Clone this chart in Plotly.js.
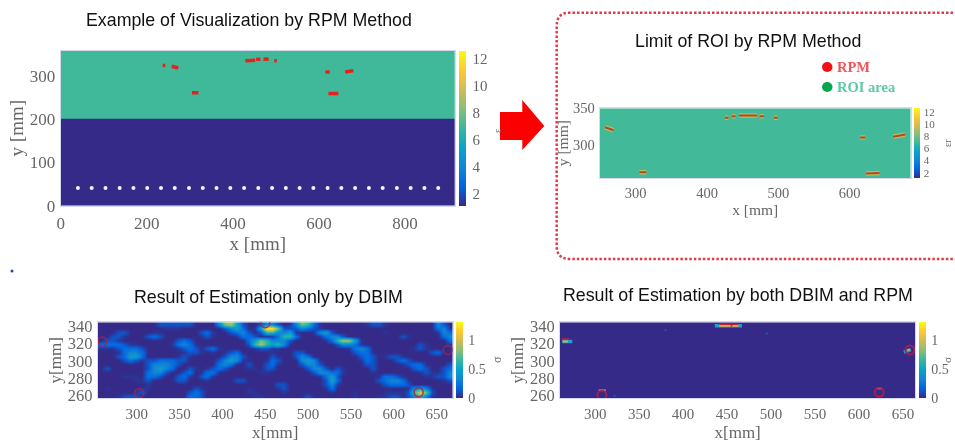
<!DOCTYPE html>
<html><head><meta charset="utf-8">
<script src="https://cdn.plot.ly/plotly-3.0.1.min.js"></script>
<style>html,body{margin:0;padding:0;background:#fff;overflow:hidden}#chart{width:955px;height:443px;filter:blur(0.7px)}</style>
</head><body><div id="chart"></div>
<script>
const W=955,H=443;
const parula=[[0,'rgb(53,42,135)'],[0.125,'rgb(3,99,225)'],[0.25,'rgb(20,133,212)'],[0.375,'rgb(6,164,202)'],[0.5,'rgb(56,184,158)'],[0.625,'rgb(135,191,119)'],[0.75,'rgb(209,187,89)'],[0.875,'rgb(254,200,50)'],[1,'rgb(249,251,14)']];

// Panel A: permittivity layers and RPM detections
const layerEdgesY=[0,200,358];
const layerEdgesX=[0,916];
const layerValues=[[1.14],[7]];
const antennaX=[40,72,104,137,169,201,233,265,298,330,362,394,426,459,491,523,555,587,620,652,684,716,748,781,813,845,877];
const antennaY=antennaX.map(()=>41);
const rpmAX=[237,243,null,258,273,null,305,320,null,429,452,null,454,464,null,471,483,null,496,502,null,615,625,null,661,680,null,622,645];
const rpmAY=[324,324,null,322,318,null,261,261,null,335,336,null,338,338,null,339,338,null,335,335,null,309,309,null,309,312,null,259,259];

// Panel B: ROI-limited map
const roiEdgesX=[249.5,685.7];
const roiEdgesY=[254.5,350];
const roiValues=[[7.1]];
const rpmBX=[257,269,null,305,315,null,425,430,null,435,440,null,445,470,null,474,480,null,494,499,null,615,622,null,661,678,null,623,642];
const rpmBY=[324,320,null,262.5,262.5,null,337,337,null,339,339,null,340,340,null,339,339,null,337,337,null,310,310,null,311,314,null,260.5,261.5];

// Panel C: DBIM estimate, colour levels read per cell, rows from the top of the plot
const sigmaLevels=[0,0,0.03,0.12,0.22,0.33,0.47,0.62,0.78,0.9,1.0,1.08,1.15,1.25];
const dbimLevels=[
[0,0,0,0,0,0,0,0,0,0,3,3,3,3,3,3,1,0,0,1,5,8,9,6,3,1,0,3,5,5,3,1,2,5,8,7,4,2,1,0,0,0,0,1,1,2,3,3,2,1,0,0,0,0,0,0,1,5,3,1],
[0,0,0,0,0,0,0,0,0,0,1,2,2,2,1,0,0,0,0,0,1,3,5,6,4,1,2,6,13,13,8,3,3,3,5,4,3,2,1,0,0,0,0,0,0,0,0,1,1,1,0,0,0,0,0,0,0,4,5,2],
[0,0,1,3,3,1,0,0,1,2,2,1,0,0,0,0,0,3,4,2,0,1,3,4,5,3,1,3,7,7,5,5,6,2,1,1,2,5,6,3,1,0,0,0,0,0,1,1,2,1,0,0,0,0,0,0,0,2,5,4],
[0,1,3,3,2,0,0,1,3,4,3,1,0,0,0,0,1,2,3,2,0,0,1,2,4,4,3,1,1,2,4,7,7,4,1,0,0,2,4,5,5,3,1,0,0,0,0,0,0,0,1,3,2,0,0,0,0,0,4,5],
[1,3,3,2,1,0,0,0,1,1,0,0,1,3,4,3,1,0,0,0,0,0,0,0,1,4,6,8,7,5,5,5,3,1,0,0,0,0,2,4,7,9,9,6,2,0,0,0,0,0,0,1,1,0,0,0,0,0,1,4],
[4,4,4,4,3,2,2,1,0,0,0,0,2,4,5,4,2,0,0,0,0,0,0,0,0,3,7,9,7,6,7,5,2,0,0,0,0,0,0,1,3,5,5,4,2,0,0,0,0,0,0,0,0,1,3,2,0,0,0,2],
[2,2,2,3,4,4,4,3,1,0,0,0,0,2,3,4,3,1,3,4,2,0,0,0,0,0,2,3,3,2,2,1,0,0,0,0,0,0,0,0,0,1,2,4,5,4,1,0,0,0,0,0,0,2,3,2,0,0,0,0],
[0,0,1,2,4,5,5,4,1,0,0,0,0,0,2,3,3,2,1,2,1,2,3,4,1,0,0,0,1,2,1,0,0,3,3,1,0,0,0,0,0,0,1,3,4,4,2,0,0,1,0,0,0,0,0,0,3,4,1,0],
[0,0,1,3,4,6,6,4,1,0,0,1,1,2,3,2,1,0,0,0,1,3,5,5,3,1,0,0,1,3,2,0,0,3,5,4,1,0,0,0,0,0,0,1,3,4,3,0,2,3,3,2,0,0,0,0,0,1,0,0],
[0,0,0,1,3,4,3,2,3,3,4,4,4,3,3,1,0,0,0,0,3,5,6,5,2,2,0,0,2,4,3,0,0,1,5,6,5,2,0,0,0,0,0,0,2,4,3,0,0,1,3,4,3,2,1,0,0,0,0,0],
[0,0,0,0,1,1,1,1,3,5,5,5,4,3,1,0,0,0,0,1,4,5,4,1,1,3,1,0,3,4,2,0,0,0,3,5,5,3,1,0,0,0,0,0,0,3,3,0,0,0,0,2,3,4,4,2,0,0,1,3],
[1,3,1,0,0,0,0,0,3,5,6,5,4,1,0,3,2,0,2,3,4,3,1,0,0,2,2,1,3,3,1,0,0,0,1,3,5,5,3,1,3,2,0,0,0,1,3,1,0,0,0,0,0,3,4,3,0,0,3,4],
[0,1,0,0,0,0,0,1,4,5,5,3,1,0,3,4,1,2,4,4,2,0,0,0,0,0,1,2,2,1,0,0,0,0,0,1,3,5,5,4,4,2,0,0,0,0,2,1,0,0,0,0,0,0,2,3,2,2,3,5],
[0,0,0,1,2,2,2,1,4,4,3,1,0,3,4,2,0,3,4,2,0,0,0,1,1,0,0,0,0,0,0,0,0,0,0,0,1,2,4,6,3,1,0,0,0,0,0,2,4,4,3,2,1,1,1,2,2,3,3,5],
[0,0,0,0,0,1,2,2,3,1,0,0,0,3,3,1,0,1,2,0,0,0,1,3,3,0,0,0,0,0,1,1,0,0,0,0,0,1,3,6,4,1,0,0,0,0,0,3,4,5,5,4,2,1,0,0,0,1,2,3],
[1,1,0,0,0,0,0,1,2,0,0,0,0,0,0,0,0,0,0,0,0,0,0,1,1,0,0,0,0,0,3,3,1,0,0,0,0,0,3,5,2,0,0,0,0,0,0,1,3,4,4,4,3,1,0,0,0,0,0,1],
[1,2,1,0,0,0,0,2,2,0,0,0,0,0,0,1,3,2,0,0,0,0,0,0,1,2,1,0,0,0,2,3,1,0,0,0,0,0,2,4,1,0,0,0,0,0,0,0,1,1,1,1,2,5,6,5,2,0,0,0],
[1,1,0,0,0,1,2,3,1,0,0,0,0,0,1,3,4,3,1,0,0,0,0,0,0,2,2,1,0,0,1,2,0,0,0,1,1,0,0,2,0,0,1,2,1,0,1,1,2,2,2,2,3,7,11,8,3,0,0,0],
[0,0,1,2,3,3,3,1,0,0,0,0,0,0,1,4,4,3,0,0,0,0,0,0,1,1,2,2,0,0,0,0,0,1,2,3,1,0,0,0,0,0,1,2,0,0,1,2,2,3,3,2,3,5,7,5,2,0,0,0]
];
const dbimSigma=dbimLevels.map(r=>r.map(v=>sigmaLevels[v]));
const dbimCircleX=[303,260,663,629,450];
const dbimCircleY=[262,322.4,312.7,263,344];

// Panel D: DBIM with RPM
const bothEdgesX=[260,664];
const bothEdgesY=[256,345];
const bothValues=[[0]];
const bothHaloX=[436,467,null,262.5,274,null,651,659];
const bothHaloY=[341,341,null,322.4,322.4,null,310,313];
const bothCoreX=[441,463,null,263,269,null,655,658];
const bothCoreY=[341,341,null,322.4,322.4,null,312.5,313];
const bothRedX=[441,463,null,262,270];
const bothRedY=[342.6,342.6,null,325.5,325.5];
const bothCapX=[304,312,null,620,626];
const bothCapY=[265.5,265.5,null,267.5,267.5];
const bothFaintX=[380,455,495,322];
const bothFaintY=[336,341,332,259];
const bothCircleX=[307.6,623,658];
const bothCircleY=[260,263,312.7];

const tickLabels_a_x=[0,200,400,600,800];
const tickLabels_a_y=[0,100,200,300];
const tickLabels_b_x=[300,400,500,600];
const tickLabels_b_y=[300,350];
const tickLabels_cd_x=[300,350,400,450,500,550,600,650];
const tickLabels_cd_y=[260,280,300,320,340];
const epsTicks=[2,4,6,8,10,12];
const sigmaTicks=[0,0.5,1];

const grey='#666', serif='"Liberation Serif","Times New Roman",serif', sans='"Liberation Sans",Arial,sans-serif';
const px=x=>x/W, py=y=>1-y/H;
function cbar(l,t,b,th,size,vals,gap){return {x:px(l),xanchor:'left',xpad:0,y:py(b),yanchor:'bottom',ypad:0,len:(b-t)/H,lenmode:'fraction',thickness:th,thicknessmode:'pixels',outlinewidth:0,ticks:'outside',ticklen:gap,tickcolor:'rgba(0,0,0,0)',tickvals:vals,tickfont:{family:serif,size:size,color:grey}};}
const data=[];
function line(xa,ya,x,y,color,width){data.push({type:'scatter',mode:'lines',xaxis:xa,yaxis:ya,x,y,connectgaps:false,showlegend:false,hoverinfo:'skip',line:{color,width,shape:'linear'}});}
function marks(xa,ya,x,y,marker){data.push({type:'scatter',mode:'markers',xaxis:xa,yaxis:ya,x,y,showlegend:false,hoverinfo:'skip',marker});}

data.push({type:'heatmap',xaxis:'x',yaxis:'y',x:layerEdgesX,y:layerEdgesY,z:layerValues,zmin:1.14,zmax:12.6,colorscale:parula,hoverinfo:'skip',colorbar:cbar(459.3,50.7,205.7,7,15,epsTicks,4)});
marks('x','y',antennaX,antennaY,{color:'#f4f4fa',size:4});
line('x','y',rpmAX,rpmAY,'#e8201c',3.5);

data.push({type:'heatmap',xaxis:'x2',yaxis:'y2',x:roiEdgesX,y:roiEdgesY,z:roiValues,zmin:1.12,zmax:12.73,colorscale:parula,hoverinfo:'skip',colorbar:cbar(914,108.3,178,6,11,epsTicks,2)});
line('x2','y2',rpmBX,rpmBY,'#b9bd55',4.5);
line('x2','y2',rpmBX,rpmBY,'#b5462a',2);

data.push({type:'heatmap',xaxis:'x3',yaxis:'y3',z:dbimSigma,x0:258,dx:6.9,y0:342.8,dy:-4.68,zmin:0,zmax:1.3,zsmooth:'best',colorscale:parula,hoverinfo:'skip',colorbar:cbar(456,322.3,398.3,7,14,sigmaTicks,3)});
marks('x3','y3',dbimCircleX,dbimCircleY,{symbol:'circle-open',size:9,color:'rgba(175,30,70,0.85)',line:{width:1.5,color:'rgba(175,30,70,0.85)'}});

data.push({type:'heatmap',xaxis:'x4',yaxis:'y4',x:bothEdgesX,y:bothEdgesY,z:bothValues,zmin:0,zmax:1.3,colorscale:parula,hoverinfo:'skip',colorbar:cbar(918.7,322.3,398.3,7,14,sigmaTicks,3)});
line('x4','y4',bothHaloX,bothHaloY,'#1c9fd6',3.5);
line('x4','y4',bothCoreX,bothCoreY,'#f0a532',2);
line('x4','y4',bothRedX,bothRedY,'#c8203c',1.5);
line('x4','y4',bothCapX,bothCapY,'#9ab7d6',1.5);
marks('x4','y4',bothFaintX,bothFaintY,{color:'#2c58c8',size:2});
marks('x4','y4',bothCircleX,bothCircleY,{symbol:'circle-open',size:9,color:'rgba(175,30,70,0.9)',line:{width:2,color:'rgba(175,30,70,0.9)'}});

function axis(l,r,range,vals,title,size,tsize,standoff,anchor,horizontal){
  const dom=horizontal?[px(l),px(r)]:[py(r),py(l)];
  return {domain:dom,range,tickvals:vals,anchor,ticks:'outside',ticklen:horizontal?2:1,tickcolor:'rgba(0,0,0,0)',showgrid:false,zeroline:false,showline:true,mirror:true,linecolor:'#d3d8ee',linewidth:1,
    tickfont:{family:serif,size,color:grey},title:{text:title,standoff,font:{family:serif,size:tsize,color:grey}}};
}
const ann=(text,x,y,size,extra)=>Object.assign({text,x:px(x),y:py(y),xref:'paper',yref:'paper',xanchor:'center',yanchor:'middle',showarrow:false,font:{family:sans,size,color:'#111'}},extra||{});
const layout={
  width:W,height:H,margin:{l:0,r:0,t:0,b:0},paper_bgcolor:'#fff',plot_bgcolor:'#fff',showlegend:false,
  xaxis:axis(60.7,455,[0,916],tickLabels_a_x,'x [mm]',17,19,3,'y',true),
  yaxis:axis(50.7,205.7,[0,358],tickLabels_a_y,'y [mm]',17,19,1,'x',false),
  xaxis2:axis(599.7,910.7,[249.5,685.7],tickLabels_b_x,'x [mm]',14.5,15.5,2,'y2',true),
  yaxis2:axis(108.3,178,[254.5,350],tickLabels_b_y,'y [mm]',14.5,15.5,0,'x2',false),
  xaxis3:axis(97.7,452.7,[254.5,668.7],tickLabels_cd_x,'x[mm]',15,17,4,'y3',true),
  yaxis3:axis(322.3,398.3,[256,345],tickLabels_cd_y,'y[mm]',16.5,17,1,'x3',false),
  xaxis4:axis(560,915.3,[260,664],tickLabels_cd_x,'x[mm]',15,17,4,'y4',true),
  yaxis4:axis(322.3,398.3,[256,345],tickLabels_cd_y,'y[mm]',16.5,17,1,'x4',false),
  annotations:[
    ann('Example of Visualization by RPM Method',249,20,17.8),
    ann('Limit of ROI by RPM Method',747.7,40.7,17.8),
    ann('Result of Estimation only by DBIM',268.3,297.3,17.8),
    ann('Result of Estimation by both DBIM and RPM',737.7,295,17.8),
    ann('RPM',853,67,14,{font:{family:serif,size:14.5,color:'#f0555a',weight:700}}),
    ann('ROI area',866,87,14,{font:{family:serif,size:14.5,color:'#5ccba3',weight:700}}),
    ann('ε',497,131,10,{textangle:-90,font:{family:serif,size:10,color:grey}}),
    ann('εr',947,143,10,{textangle:-90,font:{family:serif,size:10,color:grey}}),
    ann('σ',497,360,12,{textangle:-90,font:{family:serif,size:12,color:grey}}),
    ann('σ',947,360,11,{textangle:-90,font:{family:serif,size:11,color:grey}})
  ],
  shapes:[
    {type:'path',xref:'paper',yref:'paper',path:`M ${px(962)} ${py(12.7)} L ${px(570)} ${py(12.7)} Q ${px(556.7)} ${py(12.7)} ${px(556.7)} ${py(26)} L ${px(556.7)} ${py(246)} Q ${px(556.7)} ${py(259)} ${px(570)} ${py(259)} L ${px(962)} ${py(259)}`,line:{color:'#e23b45',width:2.5,dash:'2.5px,2px'}},
    {type:'path',xref:'paper',yref:'paper',path:`M ${px(500)} ${py(112)} L ${px(522.3)} ${py(112)} L ${px(522.3)} ${py(100)} L ${px(544.3)} ${py(126)} L ${px(522.3)} ${py(150)} L ${px(522.3)} ${py(140)} L ${px(500)} ${py(140)} Z`,fillcolor:'#fb0000',line:{width:0}},
    {type:'circle',xref:'paper',yref:'paper',x0:px(822),x1:px(832.5),y0:py(72),y1:py(62),fillcolor:'#f40f14',line:{width:0}},
    {type:'circle',xref:'paper',yref:'paper',x0:px(822),x1:px(832.5),y0:py(92),y1:py(82),fillcolor:'#08a550',line:{width:0}},
    {type:'circle',xref:'paper',yref:'paper',x0:px(10.5),x1:px(13.5),y0:py(272.5),y1:py(269.5),fillcolor:'#2a3fb5',line:{width:0}}
  ]
};
Plotly.newPlot('chart',data,layout,{displayModeBar:false,staticPlot:true});
</script></body></html>
